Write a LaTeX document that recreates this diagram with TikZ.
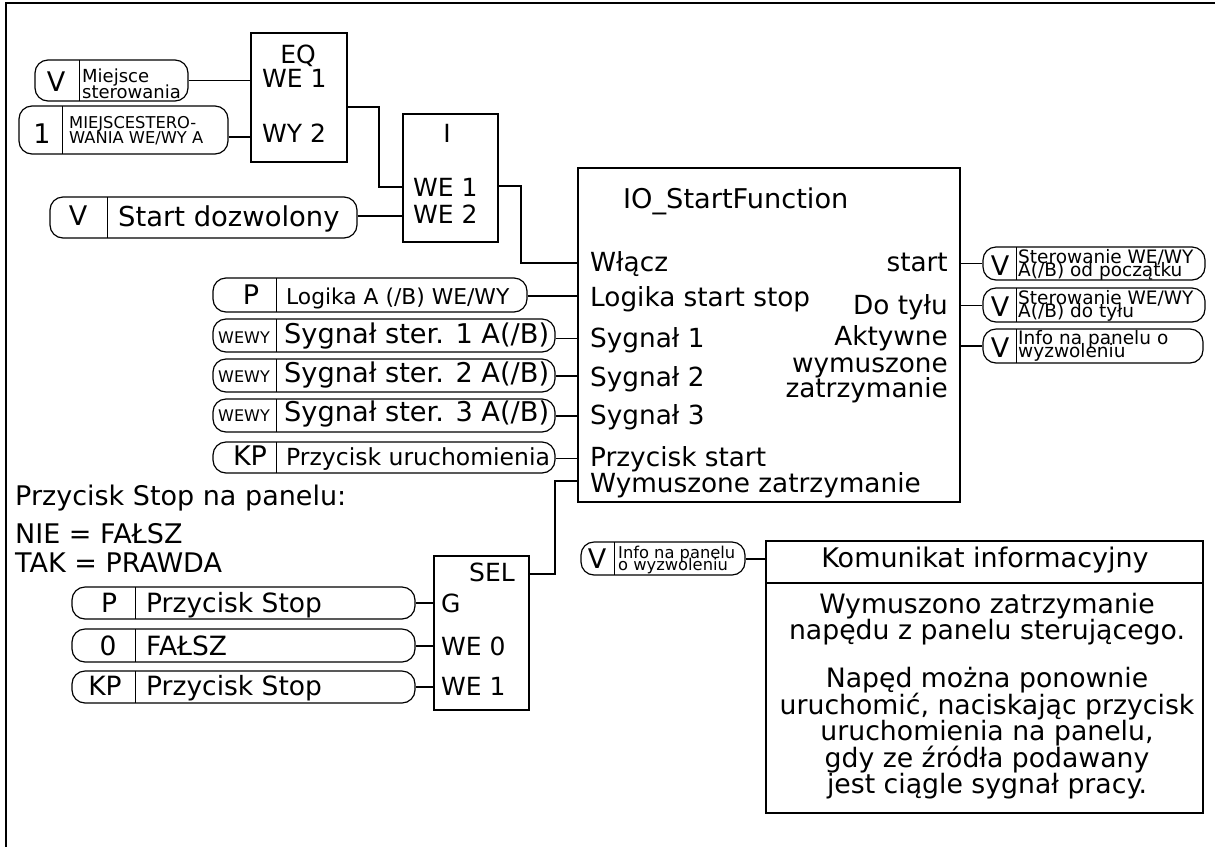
\documentclass[tikz,border=0pt]{standalone}
\usepackage{fontspec}
\setmainfont{DejaVu Sans}
\usetikzlibrary{fit}
\newcommand\fsz[1]{\fontsize{#1}{#1}\selectfont}
% pill: name x1 y1 x2 y2 xdiv
\newcommand\pill[6]{%
  \node[pillbox, fit={(#2,#3) (#4,#5)}] (#1) {};
  \draw[pilldiv] (#6,#3) -- (#6,#5);
}
\begin{document}
\begin{tikzpicture}[x=1pt,y=-1pt,
  blk/.style={draw, line width=2pt, inner sep=0pt},
  pillbox/.style={draw, line width=1.2pt, rounded corners=13pt, inner sep=0pt},
  pilldiv/.style={line width=1pt},
  wire/.style={line width=1.8pt},
  thinwire/.style={line width=1pt},
  tw/.style={inner sep=0pt, anchor=base west},
  te/.style={inner sep=0pt, anchor=base east},
  tc/.style={inner sep=0pt, anchor=base}]
\useasboundingbox (0,0) rectangle (1215,847);
\draw[line width=2pt] (1215,3) -- (6,3) -- (6,847);

% EQ block
\node[blk, fit={(251,33) (347,162)}] (eq) {};
\node[tc, font=\fsz{25}] at (298,63) {EQ};
\node[tw, font=\fsz{25}] at (262,87) {WE 1};
\node[tw, font=\fsz{25}] at (262,142) {WY 2};
\pill{m1}{35}{60}{188}{101}{79}
\node[tc, font=\fsz{27}] at (56,91) {V};
\node[tw, font=\fsz{18}] at (82,82) {Miejsce};
\node[tw, font=\fsz{18}] at (82,98) {sterowania};
\pill{m2}{19}{106}{228}{154}{62}
\node[tc, font=\fsz{27}] at (42,143) {1};
\node[tw, font=\fsz{16.3}] at (69,128) {MIEJSCESTERO-};
\node[tw, font=\fsz{16.3}] at (69,143) {WANIA WE/WY A};
\draw[wire] (m1.east) -- (m1.east -| eq.west);
\draw[wire] (m2.east |- 0,137) -- (eq.west |- 0,137);

% I block
\node[blk, fit={(403,114) (498,242)}] (i) {};
\node[tc, font=\fsz{25}] at (447,142) {I};
\node[tw, font=\fsz{25}] at (413,196) {WE 1};
\node[tw, font=\fsz{25}] at (413,223) {WE 2};
\pill{sd}{50}{197}{357}{238}{107}
\node[tc, font=\fsz{27}] at (78,225) {V};
\node[tw, font=\fsz{27.4}] at (118,226) {Start dozwolony};
\draw[wire] (eq.east |- 0,107) -| (379,187) -- (i.west |- 0,187);
\draw[wire] (sd.east |- 0,216) -- (i.west |- 0,216);

% IO_StartFunction block
\node[blk, fit={(578,168) (960,502)}] (io) {};
\node[tw, font=\fsz{27.2}] at (623,208) {IO\_StartFunction};
\begin{scope}[every node/.style={tw, font=\fsz{26.3}}]
\node at (590,271) {Włącz};
\node at (590,306) {Logika start stop};
\node at (590,347) {Sygnał 1};
\node at (590,386) {Sygnał 2};
\node at (590,424) {Sygnał 3};
\node at (590,466) {Przycisk start};
\node at (590,492) {Wymuszone zatrzymanie};
\end{scope}
\begin{scope}[every node/.style={te, font=\fsz{26.3}}]
\node at (948,271) {start};
\node at (948,314) {Do tyłu};
\node at (948,345) {Aktywne};
\node at (948,372) {wymuszone};
\node at (948,397) {zatrzymanie};
\end{scope}
\draw[wire] (i.east |- 0,186) -| (521,263) -- (io.west |- 0,263);

% inputs of IO
\pill{lg}{213}{278}{527}{312}{276}
\node[tc, font=\fsz{27}] at (251,304) {P};
\node[tw, font=\fsz{21.8}] at (286,304) {Logika A (/B) WE/WY};
\pill{s1}{213}{319}{555}{352}{276}
\node[tc, font=\fsz{16}] at (244,343) {WEWY};
\node[tw, font=\fsz{27.2}] at (284,343) {Sygnał ster. 1 A(/B)};
\pill{s2}{213}{359}{555}{392}{276}
\node[tc, font=\fsz{16}] at (244,382) {WEWY};
\node[tw, font=\fsz{27.2}] at (284,382) {Sygnał ster. 2 A(/B)};
\pill{s3}{213}{399}{555}{432}{276}
\node[tc, font=\fsz{16}] at (244,421) {WEWY};
\node[tw, font=\fsz{27.2}] at (284,421) {Sygnał ster. 3 A(/B)};
\pill{kp}{213}{442}{555}{473}{276}
\node[tc, font=\fsz{27}] at (250,465) {KP};
\node[tw, font=\fsz{23.5}] at (286,465) {Przycisk uruchomienia};
\draw[wire] (lg.east |- 0,296) -- (io.west |- 0,296);
\draw[thinwire] (s1.east |- 0,338) -- (io.west |- 0,338);
\draw[wire] (s2.east |- 0,376) -- (io.west |- 0,376);
\draw[wire] (s3.east |- 0,416) -- (io.west |- 0,416);
\draw[thinwire] (kp.east |- 0,458) -- (io.west |- 0,458);

% outputs of IO
\pill{o1}{983}{247}{1205}{280}{1016}
\node[tc, font=\fsz{27}] at (1000,275) {V};
\node[tw, font=\fsz{18.5}] at (1018,263) {Sterowanie WE/WY};
\node[tw, font=\fsz{18.5}] at (1018,276) {A(/B) od początku};
\pill{o2}{983}{288}{1205}{322}{1016}
\node[tc, font=\fsz{27}] at (1000,316) {V};
\node[tw, font=\fsz{18.5}] at (1018,304) {Sterowanie WE/WY};
\node[tw, font=\fsz{18.5}] at (1018,317) {A(/B) do tyłu};
\pill{o3}{983}{329}{1203}{363}{1016}
\node[tc, font=\fsz{27}] at (1000,357) {V};
\node[tw, font=\fsz{18.5}] at (1018,344) {Info na panelu o};
\node[tw, font=\fsz{18.5}] at (1018,357) {wyzwoleniu};
\draw[thinwire] (io.east |- 0,263) -- (o1.west |- 0,263);
\draw[thinwire] (io.east |- 0,305) -- (o2.west |- 0,305);
\draw[wire] (io.east |- 0,346) -- (o3.west |- 0,346);

% stop button note
\node[tw, font=\fsz{27}] at (15,505) {Przycisk Stop na panelu:};
\node[tw, font=\fsz{27}] at (15,543) {NIE = FAŁSZ};
\node[tw, font=\fsz{27}] at (15,572) {TAK = PRAWDA};

% SEL block
\node[blk, fit={(434,556) (529,710)}] (sel) {};
\node[tc, font=\fsz{25}] at (492,581) {SEL};
\node[tw, font=\fsz{25}] at (441,612) {G};
\node[tw, font=\fsz{25}] at (441,655) {WE 0};
\node[tw, font=\fsz{25}] at (441,695) {WE 1};
\pill{b1}{72}{587}{415}{619}{135}
\node[tc, font=\fsz{26.5}] at (109,612) {P};
\node[tw, font=\fsz{26.5}] at (146,612) {Przycisk Stop};
\pill{b2}{72}{629}{415}{662}{135}
\node[tc, font=\fsz{26.5}] at (108,655) {0};
\node[tw, font=\fsz{26.5}] at (146,655) {FAŁSZ};
\pill{b3}{72}{671}{415}{703}{135}
\node[tc, font=\fsz{26.5}] at (105,695) {KP};
\node[tw, font=\fsz{26.5}] at (146,695) {Przycisk Stop};
\draw[wire] (b1.east |- 0,603) -- (sel.west |- 0,603);
\draw[wire] (b2.east |- 0,646) -- (sel.west |- 0,646);
\draw[wire] (b3.east |- 0,687) -- (sel.west |- 0,687);
\draw[wire] (sel.east |- 0,574) -| (555,481) -- (io.west |- 0,481);

% info message
\node[draw, line width=1.6pt, inner sep=0pt, fit={(766,541) (1203,813)}] (kom) {};
\draw[line width=1.6pt] (kom.west |- 0,583) -- (kom.east |- 0,583);
\node[tc, font=\fsz{27}] at (985,567) {Komunikat informacyjny};
\begin{scope}[every node/.style={tc, font=\fsz{26.7}}]
\node at (987,613) {Wymuszono zatrzymanie};
\node at (987,639) {napędu z panelu sterującego.};
\node at (987,687) {Napęd można ponownie};
\node at (987,714) {uruchomić, naciskając przycisk};
\node at (987,740) {uruchomienia na panelu,};
\node at (987,767) {gdy ze źródła podawany};
\node at (987,793) {jest ciągle sygnał pracy.};
\end{scope}
\pill{inf}{581}{542}{745}{575}{614}
\node[tc, font=\fsz{27}] at (597,568) {V};
\node[tw, font=\fsz{16.3}] at (618,558) {Info na panelu};
\node[tw, font=\fsz{16.3}] at (618,570) {o wyzwoleniu};
\draw[wire] (inf.east |- 0,559) -- (kom.west |- 0,559);
\end{tikzpicture}
\end{document}
